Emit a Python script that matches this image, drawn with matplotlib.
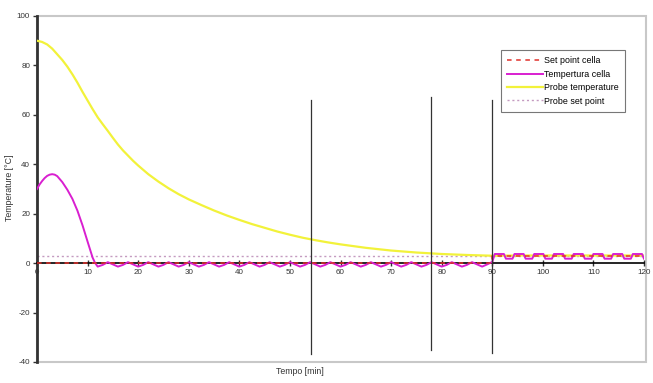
import matplotlib.pyplot as plt
from matplotlib.patches import Rectangle

plt.rcParams['font.family'] = ['Liberation Sans', 'DejaVu Sans']
plt.rcParams['axes.unicode_minus'] = False

# Probe temperature (yellow)
probe_t = [0, 1, 2, 3, 4, 5, 6, 7, 8, 9, 10, 11, 12, 13, 14, 15, 16, 17, 18, 19, 20, 22, 24, 26, 28, 30,
           32.5, 35, 37.5, 40, 42.5, 45, 47.5, 50, 52.5, 55, 57.5, 60, 65, 70, 75, 80, 85, 90,
           95, 100, 105, 110, 115, 120]
probe_v = [90, 89.5, 88.5, 86.8, 84.5, 82.2, 79.5, 76.4, 73, 69.3, 65.8, 62.3, 59, 56.2, 53.5, 50.7, 48, 45.6, 43.5, 41.4,
           39.5, 36, 33, 30.3, 27.9, 25.8,
           23.5, 21.3, 19.3, 17.5, 15.8, 14.3, 12.8, 11.5, 10.3, 9.3, 8.4, 7.6, 6.2, 5.1, 4.3, 3.7, 3.3, 3.0,
           3.1, 3.1, 3.1, 3.1, 3.1, 3.1]

# Tempertura cella (magenta)
cella_t = [0, 0.5, 1, 1.5, 2, 2.5, 3, 3.5, 4, 5, 6, 7, 8, 9, 10, 11, 11.5,
           12, 13, 14, 15, 16, 17, 18, 19, 20, 21, 22, 23, 24, 25, 26, 27, 28, 29, 30, 31,
           32, 33, 34, 35, 36, 37, 38, 39, 40, 41, 42, 43, 44, 45, 46, 47, 48, 49, 50, 51,
           52, 53, 54, 55, 56, 57, 58, 59, 60, 61, 62, 63, 64, 65, 66, 67, 68, 69, 70, 71,
           72, 73, 74, 75, 76, 77, 78, 79, 80, 81, 82, 83, 84, 85, 86, 87, 88, 89, 90,
           90.5, 92.3, 92.7, 94.0, 94.4, 96.2, 96.6, 97.9, 98.3, 100.1, 100.5, 101.8, 102.2,
           104.0, 104.4, 105.7, 106.1, 107.9, 108.3, 109.6, 110.0, 111.8, 112.2, 113.5, 113.9,
           115.7, 116.1, 117.4, 117.8, 119.6, 120]
cella_v = [30, 31.8, 33.2, 34.4, 35.3, 35.8, 36, 35.8, 35.2, 32.8, 29.7, 26, 21.2, 15.3, 8.7, 2.2, 0,
           -1.4, -0.7, 0.4, -0.5, -1.4, -0.7, 0.4, -0.5, -1.4, -0.7, 0.4, -0.5, -1.4, -0.7, 0.4, -0.5, -1.4, -0.7, 0.4, -0.5,
           -1.4, -0.7, 0.4, -0.5, -1.4, -0.7, 0.4, -0.5, -1.4, -0.7, 0.4, -0.5, -1.4, -0.7, 0.4, -0.5, -1.4, -0.7, 0.4, -0.5,
           -1.4, -0.7, 0.4, -0.5, -1.4, -0.7, 0.4, -0.5, -1.4, -0.7, 0.4, -0.5, -1.4, -0.7, 0.4, -0.5, -1.4, -0.7, 0.4, -0.5,
           -1.4, -0.7, 0.4, -0.5, -1.4, -0.7, 0.4, -0.5, -1.4, -0.7, 0.4, -0.5, -1.4, -0.7, 0.4, -0.5, -1.4, -0.5, 0.5,
           3.7, 3.7, 1.8, 1.8, 3.7, 3.7, 1.8, 1.8, 3.7, 3.7, 1.8, 1.8, 3.7,
           3.7, 1.8, 1.8, 3.7, 3.7, 1.8, 1.8, 3.7, 3.7, 1.8, 1.8, 3.7,
           3.7, 1.8, 1.8, 3.7, 3.7, 1.8]

# Set point cella (red dashed) and probe set point (dotted)
sp_cella_t = [0, 90, 90, 120]
sp_cella_v = [0, 0, 2.7, 2.7]
sp_probe_t = [0, 120]
sp_probe_v = [3, 3]

# vertical marker lines: x, bottom, top
vlines_x = [54.2, 77.9, 90.0]
vlines_lo = [-36.7, -35.1, -36.2]
vlines_hi = [66, 67.3, 66]

fig = plt.figure(figsize=(6.53, 3.83), dpi=100)
ax = fig.add_axes([37 / 653, 1 - 362 / 383, 607 / 653, 346 / 383])

ax.plot(sp_probe_t, sp_probe_v, color='#c49ac0', lw=1.0, ls=(0, (1.5, 2)), label='Probe set point', zorder=2)
ax.plot(probe_t, probe_v, color='#f2f23a', lw=1.6, label='Probe temperature', zorder=3)
ax.plot(cella_t, cella_v, color='#d91fd0', lw=1.4, label='Tempertura cella', zorder=5)
ax.plot(sp_cella_t, sp_cella_v, color='#e0302a', lw=1.1, ls=(0, (3, 3)), label='Set point cella', zorder=6)

for x, lo, hi in zip(vlines_x, vlines_lo, vlines_hi):
    ax.plot([x, x], [lo, hi], color='#333333', lw=0.9, zorder=7)

ax.set_xlim(0, 120)
ax.set_ylim(-40, 100)
ax.set_xticks(range(0, 121, 10))
ax.set_yticks(range(-40, 101, 20))

for s in ['top', 'right']:
    ax.spines[s].set_visible(False)
ax.spines['left'].set_color('#333333')
ax.spines['left'].set_linewidth(2)
ax.spines['bottom'].set_position(('data', 0))
ax.spines['bottom'].set_color('black')
ax.spines['bottom'].set_linewidth(1.2)
ax.spines['bottom'].set_zorder(4)

# light grey plot-area frame
ax.add_patch(Rectangle((0, 0), 1.003, 1, transform=ax.transAxes, fill=False,
                       edgecolor='#c8c8c8', lw=1.5, clip_on=False, zorder=0))

ax.tick_params(axis='both', labelsize=5.8, colors='#333333', length=3, width=1, pad=2)
ax.tick_params(axis='x', direction='inout', length=4)

fig.text(300 / 653, 1 - 372 / 383, 'Tempo [min]', fontsize=6.3, ha='center', va='center', color='#333333')
fig.text(10 / 653, 1 - 188 / 383, 'Temperature [\u00b0C]', fontsize=6.3, rotation=90,
         ha='center', va='center', color='#333333')

handles, labels = ax.get_legend_handles_labels()
order = [3, 2, 1, 0]
leg = ax.legend([handles[i] for i in order], [labels[i] for i in order],
                loc='upper left', bbox_to_anchor=(501 / 653, 1 - 50 / 383),
                bbox_transform=fig.transFigure, fontsize=6.4, frameon=True, fancybox=False,
                handlelength=4.0, handletextpad=0.1, borderpad=0.7, labelspacing=0.5,
                borderaxespad=0)
leg.get_frame().set_edgecolor('#555555')
leg.get_frame().set_linewidth(0.8)

fig.savefig('out.png', dpi=100)
